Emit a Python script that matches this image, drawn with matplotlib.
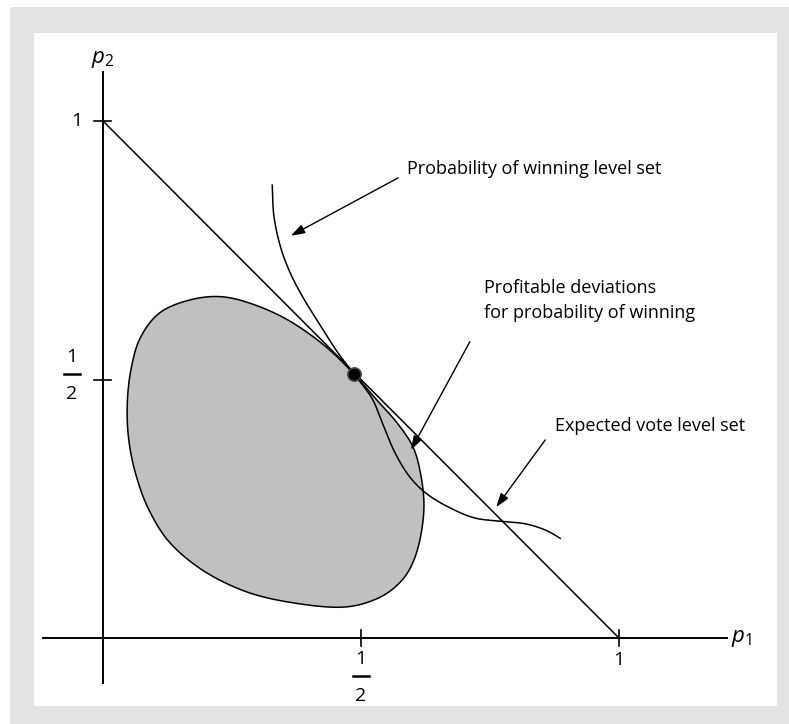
import numpy as np
import matplotlib
matplotlib.use("Agg")
import matplotlib.pyplot as plt
from matplotlib.patches import Rectangle

plt.rcParams['font.family'] = ['Open Sans', 'DejaVu Sans']
plt.rcParams['mathtext.fontset'] = 'custom'
plt.rcParams['mathtext.rm'] = 'Open Sans'
plt.rcParams['mathtext.it'] = 'Open Sans:italic'

# tick positions / labels
x_ticks = [0.5, 1.0]
y_ticks = [0.5, 1.0]

# expected vote level set (straight line p1 + p2 = 1)
line_p1 = [0.0, 1.0]
line_p2 = [1.0, 0.0]

# tangency point
dot_p1 = [0.486]
dot_p2 = [0.511]

# shaded region: profitable deviations (closed outline, clockwise from the dot)
blob_p1 = [0.486, 0.531, 0.570, 0.601, 0.616, 0.622, 0.616, 0.601, 0.576, 0.533,
           0.469, 0.382, 0.285, 0.198, 0.130, 0.089, 0.064, 0.050, 0.047, 0.054,
           0.072, 0.110, 0.169, 0.231, 0.295, 0.362, 0.430]
blob_p2 = [0.511, 0.460, 0.416, 0.369, 0.315, 0.257, 0.199, 0.147, 0.108, 0.077,
           0.060, 0.066, 0.087, 0.128, 0.184, 0.248, 0.315, 0.383, 0.451, 0.518,
           0.580, 0.629, 0.654, 0.660, 0.644, 0.613, 0.565]

# probability of winning level set
curve_p1 = [0.328, 0.331, 0.343, 0.362, 0.388, 0.421, 0.453, 0.486, 0.521, 0.543,
            0.566, 0.595, 0.630, 0.676, 0.721, 0.769, 0.818, 0.857, 0.886]
curve_p2 = [0.876, 0.818, 0.760, 0.708, 0.658, 0.605, 0.555, 0.511, 0.464, 0.412,
            0.358, 0.311, 0.277, 0.250, 0.232, 0.226, 0.221, 0.209, 0.193]


def catmull(xs, ys, n=24, closed=False):
    P = np.column_stack([xs, ys])
    if closed:
        P = np.vstack([P[-1], P, P[0], P[1]])
    else:
        P = np.vstack([2 * P[0] - P[1], P, 2 * P[-1] - P[-2]])
    t = np.linspace(0, 1, n, endpoint=False)[:, None]
    out = []
    for i in range(1, len(P) - 2):
        p0, p1, p2, p3 = P[i - 1], P[i], P[i + 1], P[i + 2]
        out.append(0.5 * (2 * p1 + (-p0 + p2) * t
                          + (2 * p0 - 5 * p1 + 4 * p2 - p3) * t ** 2
                          + (-p0 + 3 * p1 - 3 * p2 + p3) * t ** 3))
    out.append(P[-2][None])
    s = np.vstack(out)
    return s[:, 0], s[:, 1]


fig = plt.figure(figsize=(7.89, 7.24), dpi=100)
ax = fig.add_axes([0, 0, 1, 1])
ax.set_xlim(-0.1996, 1.3295)
ax.set_ylim(-0.1663, 1.2340)
ax.axis('off')

# grey frame with white panel
ax.add_patch(Rectangle((10 / 789, 0), 779 / 789, 717 / 724, transform=fig.transFigure,
                       facecolor='#e3e3e3', edgecolor='none', zorder=0, clip_on=False))
ax.add_patch(Rectangle((34 / 789, 18 / 724), 743 / 789, 673 / 724, transform=fig.transFigure,
                       facecolor='white', edgecolor='none', zorder=0.5, clip_on=False))

lw = 1.1
# axes
ax.plot([-0.116, 1.21], [0, 0], color='black', lw=1.4)
ax.plot([0, 0], [-0.087, 1.094], color='black', lw=1.4)
for t in x_ticks:
    ax.plot([t, t], [-0.016, 0.016], color='black', lw=1.2)
for t in y_ticks:
    ax.plot([-0.017, 0.015], [t, t], color='black', lw=1.2)

fs = 13
ax.text(1.0, -0.043, '1', ha='center', va='center', fontsize=14)
ax.text(-0.05, 1.0, '1', ha='center', va='center', fontsize=14)


def half(x, y):
    ax.text(x, y + 0.034, '1', ha='center', va='center', fontsize=14)
    ax.plot([x - 0.016, x + 0.016], [y, y], color='black', lw=1.8)
    ax.text(x, y - 0.039, '2', ha='center', va='center', fontsize=14)


half(0.5, -0.074)
half(-0.06, 0.51)

ax.text(1.217, 0.0, '$p_1$', ha='left', va='center', fontsize=16)
ax.text(0.0, 1.118, '$p_2$', ha='center', va='center', fontsize=16)

# shaded region
bx, by = catmull(blob_p1, blob_p2, closed=True)
ax.fill(bx, by, facecolor='#c0c0c0', edgecolor='black', lw=lw, zorder=2)

# straight line
ax.plot(line_p1, line_p2, color='black', lw=lw, zorder=3)

# level set curve
cx, cy = catmull(curve_p1, curve_p2)
ax.plot(cx, cy, color='black', lw=lw, zorder=3)

ax.plot(dot_p1, dot_p2, 'o', color='black', ms=9.5, mec='#444444', mew=1.2, zorder=5)

arrow = dict(arrowstyle='-|>,head_length=0.6,head_width=0.2', color='black', lw=1.0,
             mutation_scale=14, shrinkA=0, shrinkB=0)
ax.text(0.589, 0.907, 'Probability of winning level set', fontsize=fs, ha='left', va='center')
ax.annotate('', xy=(0.364, 0.778), xytext=(0.572, 0.890), arrowprops=arrow, zorder=4)
ax.text(0.738, 0.653, 'Profitable deviations\nfor probability of winning', fontsize=fs,
        ha='left', va='center', linespacing=1.45, zorder=4)
ax.annotate('', xy=(0.597, 0.364), xytext=(0.711, 0.573), arrowprops=arrow, zorder=4)
ax.text(0.876, 0.410, 'Expected vote level set', fontsize=fs, ha='left', va='center')
ax.annotate('', xy=(0.762, 0.253), xytext=(0.857, 0.383), arrowprops=arrow, zorder=4)

fig.savefig('out.png', dpi=100)
